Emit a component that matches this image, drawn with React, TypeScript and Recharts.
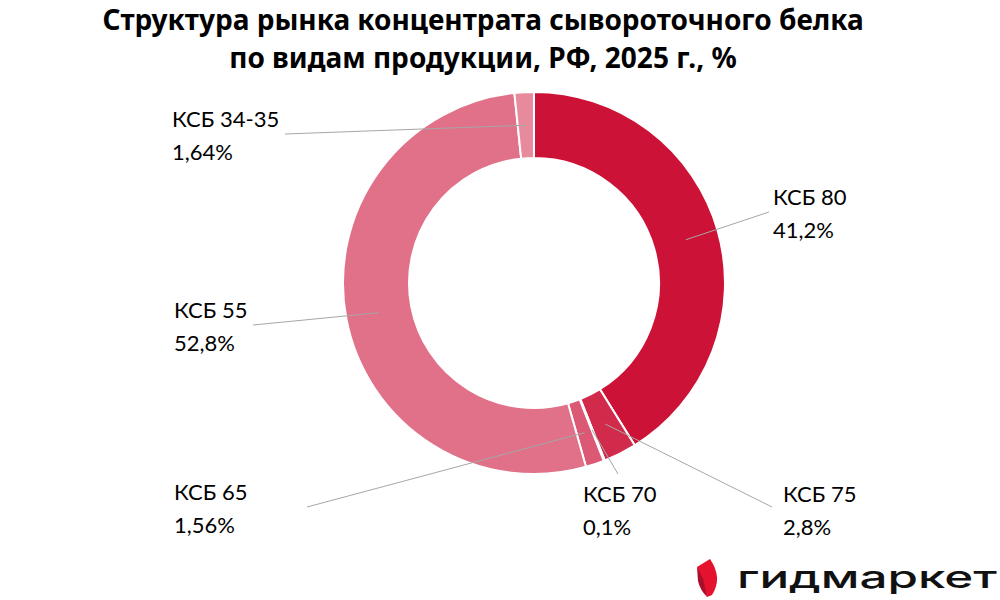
import { Pie, PieChart, Cell } from 'recharts';

// Segment names, shares (%) and fills, clockwise from 12 o'clock
const NAMES = ['КСБ 80', 'КСБ 75', 'КСБ 70', 'КСБ 65', 'КСБ 55', 'КСБ 34-35'];
const SHARES = [41.2, 2.8, 0.1, 1.56, 52.8, 1.64];
const COLORS = ['#CC1236', '#D22A4B', '#D8445F', '#DC5975', '#E07189', '#E68A9C'];

// Where each callout sits: text left/baseline and the leader line end
const LABEL_POS = [
  { tx: 773, ty: 205, lx: 769, ly: 212 },
  { tx: 783, ty: 502, lx: 772, ly: 507 },
  { tx: 583, ty: 502, lx: 618, ly: 474 },
  { tx: 174, ty: 500, lx: 307, ly: 507 },
  { tx: 174, ty: 318, lx: 253, ly: 325 },
  { tx: 172, ty: 127, lx: 285, ly: 134 },
];

const LABEL_FONT = 'Lato, "Noto Sans", sans-serif';
const TITLE_FONT = '"Noto Sans", sans-serif';
const RAD = Math.PI / 180;

const data = NAMES.map((name, i) => ({ name, value: SHARES[i] }));

const fmt = (v: number) => `${String(v).replace('.', ',')}%`;

function renderLabel(props: any) {
  const { cx, cy, midAngle, innerRadius, outerRadius, index } = props;
  const r = (innerRadius + outerRadius) / 2;
  const sx = cx + r * Math.cos(-midAngle * RAD);
  const sy = cy + r * Math.sin(-midAngle * RAD);
  const p = LABEL_POS[index];
  return (
    <g key={`lbl-${index}`}>
      <line x1={sx} y1={sy} x2={p.lx} y2={p.ly} stroke="#A6A6A6" strokeWidth={1} />
      <text x={p.tx} y={p.ty} fill="#000" fontSize={22} fontFamily={LABEL_FONT}>
        {NAMES[index]}
      </text>
      <text x={p.tx} y={p.ty + 33} fill="#000" fontSize={22} fontFamily={LABEL_FONT}>
        {fmt(SHARES[index])}
      </text>
    </g>
  );
}

export default function App() {
  return (
    <div style={{ position: 'absolute', left: 0, top: 0, width: 1000, height: 600, background: '#fff' }}>
      <svg width={1000} height={90} style={{ position: 'absolute', left: 0, top: 0 }}>
        <text x={483} y={30} textAnchor="middle" fontFamily={TITLE_FONT} fontWeight={700} fontSize={28} fill="#000">
          Структура рынка концентрата сывороточного белка
        </text>
        <text x={483} y={68} textAnchor="middle" fontFamily={TITLE_FONT} fontWeight={700} fontSize={28} fill="#000">
          по видам продукции, РФ, 2025 г., %
        </text>
      </svg>
      <PieChart
        width={1000}
        height={600}
        margin={{ top: 0, right: 0, bottom: 0, left: 0 }}
        style={{ position: 'absolute', left: 0, top: 0 }}
      >
        <Pie
          data={data}
          dataKey="value"
          nameKey="name"
          cx={534}
          cy={283}
          innerRadius={125}
          outerRadius={191}
          startAngle={90}
          endAngle={-270}
          stroke="#fff"
          strokeWidth={2}
          label={renderLabel}
          labelLine={false}
          isAnimationActive={false}
        >
          {data.map((d, i) => (
            <Cell key={d.name} fill={COLORS[i]} />
          ))}
        </Pie>
      </PieChart>
      {/* brand mark */}
      <svg width={1000} height={600} style={{ position: 'absolute', left: 0, top: 0, pointerEvents: 'none' }}>
        <path d="M697 567 L710 559 Q723 578 712 595 L707 597 Z" fill="#E4122F" />
        <path d="M697 567 L703 579 L707 597 Q700 590 698 581 Z" fill="#A80F2A" />
        <text
          x={737}
          y={588}
          fontSize={31}
          fontWeight={500}
          fontFamily="Inter, Roboto, sans-serif"
          textLength={260}
          lengthAdjust="spacingAndGlyphs"
          fill="#111"
        >
          гидмаркет
        </text>
      </svg>
    </div>
  );
}
